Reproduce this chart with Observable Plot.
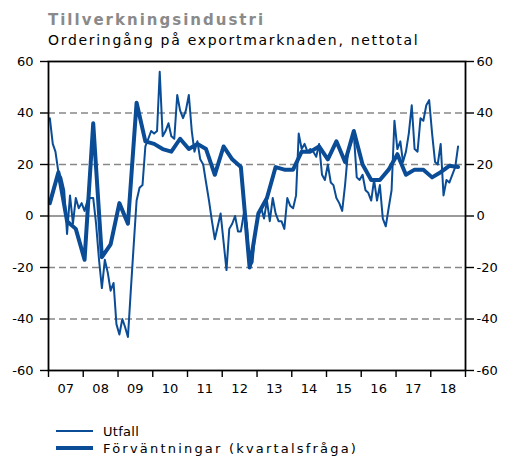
<!DOCTYPE html>
<html>
<head>
<meta charset="utf-8">
<script src="https://cdn.jsdelivr.net/npm/d3@7"></script>
<script src="https://cdn.jsdelivr.net/npm/@observablehq/plot@0.6"></script>
<style>
  body { margin: 0; width: 506px; height: 460px; overflow: hidden; background: #fff; position: relative; font-family: "DejaVu Sans", Verdana, sans-serif; }
  .t { position: absolute; white-space: nowrap; line-height: normal; }
  #chart { position: absolute; left: 0; top: 55px; }
</style>
</head>
<body>
<div class="t" style="left:48px;top:11px;font-weight:bold;font-size:15px;letter-spacing:2px;color:#8a8a8a">Tillverkningsindustri</div>
<div class="t" style="left:48px;top:31.5px;font-size:14px;letter-spacing:1.7px;color:#000">Orderingång på exportmarknaden, nettotal</div>
<div id="chart"></div>
<div id="legend"></div>
<script>
// Monthly outcome (Utfall), Jan 2007 - Oct 2018
const utfall = [
  38, 28, 25, 17, 15, 10, -7, 8, -3, 7, 3, 5,          // 2007
  2, 6, 7, 7, -3, -17, -28, -17, -22, -29, -26, -42,   // 2008
  -46, -40, -43, -47, -29, -11, 6, 11, 12, 27, 30, 33, // 2009
  32, 33, 56, 31, 33, 36, 31, 30, 47, 41, 38, 41,      // 2010
  47, 33, 25, 29, 22, 20, 13, 6, -2, -9, -4, 1,        // 2011
  -10, -21, -5, -3, 0, -6, -6, 1, -3, -20, -18, -5,    // 2012
  1, 3, -1, 6, -2, 7, 1, -2, -2, -5, 7, 4,             // 2013
  3, 8, 32, 26, 28, 25, 26, 25, 23, 28, 16, 14,        // 2014
  20, 13, 12, 7, 5, 2, 12, 25, 28, 32, 15, 14,         // 2015
  16, 10, 9, 6, 14, 6, 12, -1, -4, 3, 10, 37,          // 2016
  26, 29, 21, 25, 32, 43, 26, 25, 38, 37, 43, 45,      // 2017
  32, 21, 20, 28, 8, 14, 13, 16, 19, 27                // 2018
];
// Quarterly expectations (Förväntningar), 2007Q1 - 2018Q4
const forvantningar = [
  5, 17, -2, -5,
  -17, 36, -16, -11,
  5, -3, 44, 29,
  28, 26, 25, 30,
  26, 28, 26, 16,
  27, 22, 19, -20,
  1, 7, 19, 18,
  18, 25, 25, 27,
  22, 29, 21, 33,
  20, 14, 14, 18,
  24, 16, 18, 18,
  15, 17, 19.5, 19
];
const startYear = 2007;
const endYear = 2019;
const yTicks = [-60, -40, -20, 0, 20, 40, 60];
const gridDashed = [-40, -20, 20, 40];
const gridZero = [0];
const yearLabels = ["07","08","09","10","11","12","13","14","15","16","17","18"];
const seriesNames = ["Utfall", "Förväntningar (kvartalsfråga)"];

const blue = "#0a4c95";

const monthly = utfall.map((v, i) => ({date: new Date(Date.UTC(startYear, i, 15)), value: v}));
const quarterly = forvantningar.map((v, i) => ({date: new Date(Date.UTC(startYear, i * 3, 15)), value: v}));
const yearStarts = d3.range(startYear, endYear + 1).map(y => new Date(Date.UTC(y, 0, 1)));
const yearMids = yearLabels.map((_, i) => new Date(Date.UTC(startYear + i, 6, 2)));
const labelOf = new Map(yearMids.map((d, i) => [+d, yearLabels[i]]));
const fmtY = d => d < 0 ? "-" + Math.abs(d) : String(d);

const chart = Plot.plot({
  width: 506,
  height: 345,
  marginTop: 6,
  marginBottom: 30,
  marginLeft: 48,
  marginRight: 41,
  style: {fontFamily: "'DejaVu Sans', Verdana, sans-serif", fontSize: "13px", color: "#000", background: "transparent"},
  x: {type: "utc", domain: [yearStarts[0], yearStarts[yearStarts.length - 1]], label: null},
  y: {domain: [yTicks[0], yTicks[yTicks.length - 1]], label: null},
  marks: [
    Plot.ruleY(gridDashed, {stroke: "#888", strokeWidth: 1.6, strokeDasharray: "7,4"}),
    Plot.ruleY(gridZero, {stroke: "#9a9a9a", strokeWidth: 2}),
    Plot.lineY(monthly, {x: "date", y: "value", stroke: blue, strokeWidth: 2}),
    Plot.lineY(quarterly, {x: "date", y: "value", stroke: blue, strokeWidth: 4}),
    Plot.frame({stroke: "#000", strokeWidth: 1.8}),
    Plot.axisY(yTicks, {anchor: "left", tickSize: 8, tickPadding: 7, tickFormat: fmtY, strokeWidth: 1.4, label: null}),
    Plot.axisY(yTicks, {anchor: "right", tickSize: 8, tickPadding: 3, tickFormat: fmtY, strokeWidth: 1.4, label: null}),
    Plot.axisX(yearStarts, {anchor: "bottom", tickSize: 7, tickFormat: () => "", strokeWidth: 1.4, label: null}),
    Plot.axisX(yearMids, {anchor: "bottom", tickSize: 0, tickPadding: 13, tickFormat: d => labelOf.get(+d), label: null})
  ]
});
document.getElementById("chart").appendChild(chart);

// Legend
const legend = document.getElementById("legend");
const rows = [
  {name: seriesNames[0], width: 2, top: 424.4, ls: "0.3px"},
  {name: seriesNames[1], width: 4, top: 441.4, ls: "2.2px"}
];
rows.forEach(r => {
  const sw = document.createElementNS("http://www.w3.org/2000/svg", "svg");
  sw.setAttribute("width", 40); sw.setAttribute("height", 10);
  sw.style.position = "absolute"; sw.style.left = "55px"; sw.style.top = (r.top + 1.6) + "px";
  const ln = document.createElementNS("http://www.w3.org/2000/svg", "line");
  ln.setAttribute("x1", 1); ln.setAttribute("x2", 38); ln.setAttribute("y1", 5); ln.setAttribute("y2", 5);
  ln.setAttribute("stroke", blue); ln.setAttribute("stroke-width", r.width);
  sw.appendChild(ln);
  legend.appendChild(sw);
  const t = document.createElement("div");
  t.className = "t";
  t.style.left = "103px"; t.style.top = r.top + "px"; t.style.fontSize = "13px"; t.style.letterSpacing = r.ls;
  t.textContent = r.name;
  legend.appendChild(t);
});
</script>
</body>
</html>
